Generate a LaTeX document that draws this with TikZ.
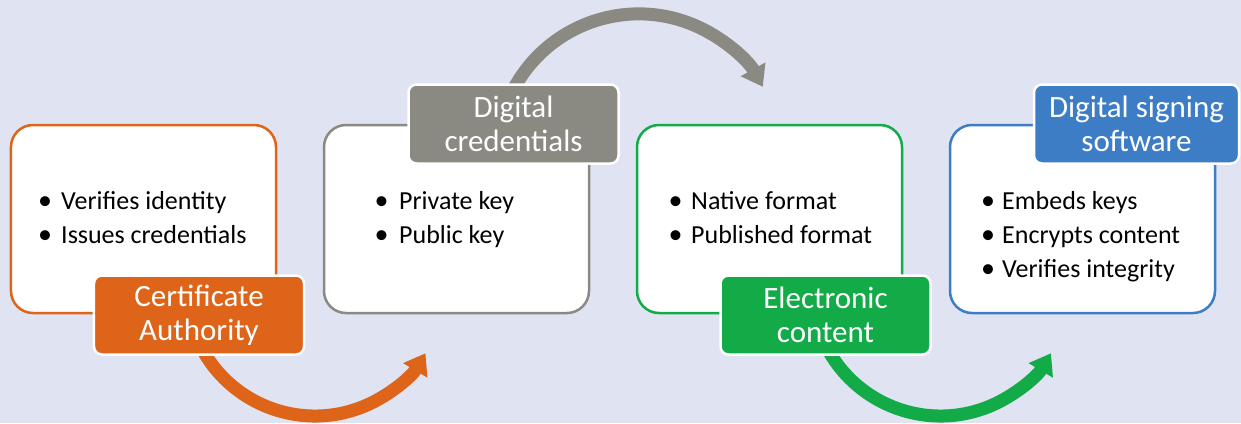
\documentclass[tikz,border=0pt]{standalone}
\usepackage{fontspec}
\setmainfont{Carlito}
\usetikzlibrary{arrows.meta}
\definecolor{bg}{RGB}{223,227,242}
\definecolor{corange}{RGB}{222,100,26}
\definecolor{cgray}{RGB}{138,138,131}
\definecolor{cgreen}{RGB}{19,171,72}
\definecolor{cblue}{RGB}{61,125,198}
\begin{document}
\begin{tikzpicture}[x=1bp,y=-1bp,
  box/.style={draw=#1, line width=2.5bp, fill=white, rounded corners=22bp,
    minimum width=265bp, minimum height=188bp, inner sep=0pt},
  lab/.style={fill=#1, draw=white, line width=2.5bp, rounded corners=8bp,
    text=white, minimum width=210bp, minimum height=79bp, inner sep=0pt,
    align=center, font=\fontsize{31bp}{34bp}\selectfont},
  flow/.style={draw=#1, line width=13bp, -{Triangle[length=20bp,width=27bp]}},
  item/.style={anchor=base west, inner sep=0pt, font=\fontsize{26bp}{34bp}\selectfont},
  dot/.style={anchor=base, inner sep=0pt, font=\fontsize{28bp}{34bp}\selectfont}]
\fill[bg] (0,0) rectangle (1241,423);
\useasboundingbox (0,0) rectangle (1241,423);
% boxes
\node[box=corange] (b1) at (143.5,219) {};
\node[box=cgray]   (b2) at (456.5,219) {};
\node[box=cgreen]  (b3) at (769.5,219) {};
\node[box=cblue]   (b4) at (1082.5,219) {};
% arrow centres
\coordinate (c1) at (315,287.4);
\coordinate (c2) at (638.8,155.8);
\coordinate (c3) at (940.5,287.4);
\draw[flow=corange] ([shift={(205:128.6bp)}]c1) arc[start angle=205, end angle=329.2, radius=128.6bp];
\draw[flow=cgray] ([shift={(155:141.9bp)}]c2) arc[start angle=155, end angle=29.1, radius=141.9bp];
\draw[flow=cgreen] ([shift={(205:128.6bp)}]c3) arc[start angle=205, end angle=329.2, radius=128.6bp];
% labels
\node[lab=corange] (l1) at (199,315) {Certificate\\Authority};
\node[lab=cgray]   (l2) at (513.5,124) {Digital\\credentials};
\node[lab=cgreen]  (l3) at (825.5,315) {Electronic\\content};
\node[lab=cblue, minimum width=205bp] (l4) at (1136.5,124) {Digital signing\\software};
% lists
\node[dot] (d11) at (45,209) {•};  \node[item] (t11) at (61,209) {Verifies identity};
\node[dot] (d12) at (45,243) {•};  \node[item] (t12) at (61,243) {Issues credentials};
\node[dot] (d21) at (381.5,209) {•}; \node[item] (t21) at (399,209) {Private key};
\node[dot] (d22) at (381.5,243) {•}; \node[item] (t22) at (399,243) {Public key};
\node[dot] (d31) at (675.5,209) {•}; \node[item] (t31) at (691,209) {Native format};
\node[dot] (d32) at (675.5,243) {•}; \node[item] (t32) at (691,243) {Published format};
\node[dot] (d41) at (988,209) {•}; \node[item] (t41) at (1002,209) {Embeds keys};
\node[dot] (d42) at (988,243) {•}; \node[item] (t42) at (1002,243) {Encrypts content};
\node[dot] (d43) at (988,277) {•}; \node[item] (t43) at (1002,277) {Verifies integrity};
\end{tikzpicture}
\end{document}
